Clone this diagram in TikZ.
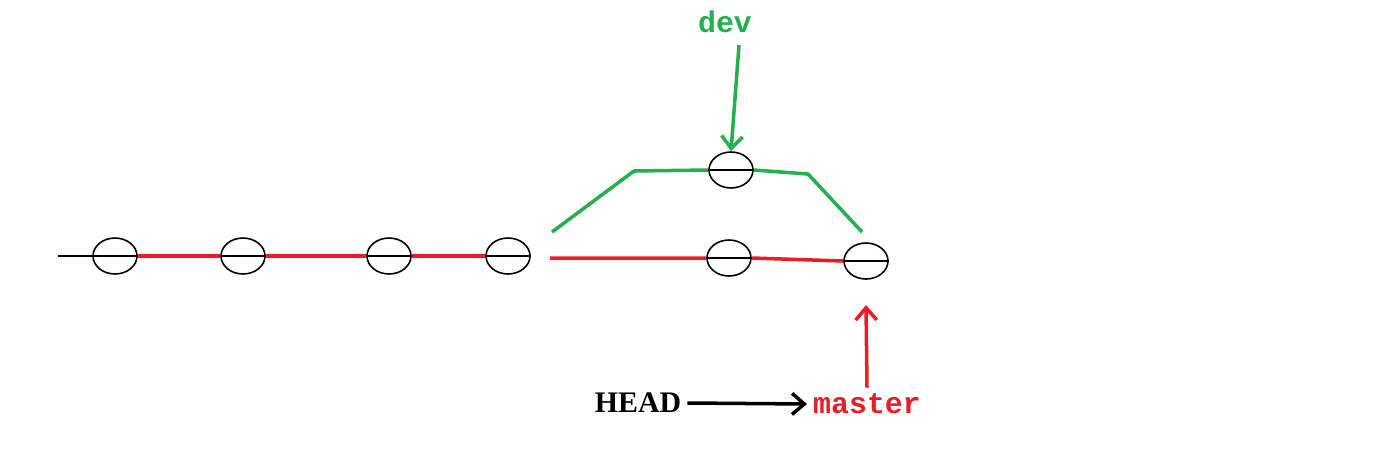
\documentclass[tikz,border=0pt]{standalone}
\usepackage{fontspec}
\setmainfont{Liberation Serif}
\setmonofont{Liberation Mono}
\usetikzlibrary{shapes.geometric, arrows.meta}
\definecolor{gitred}{RGB}{237,28,36}
\definecolor{gitgreen}{RGB}{34,177,76}
\tikzset{
  commit/.style={draw, ellipse, line width=0.9pt, minimum width=0.88cm, minimum height=0.72cm, inner sep=0pt},
  branch/.style={line width=2pt},
  pointer/.style={line width=2pt, -{Straight Barb[length=7pt, width=12pt, line width=2pt]}},
}
\begin{document}
\begin{tikzpicture}[x=0.02cm, y=-0.02cm]
    \useasboundingbox (0,0) rectangle (1392,451);
    % commits
    \node[commit] (c1) at (115,256) {};
    \node[commit] (c2) at (243,256) {};
    \node[commit] (c3) at (389,256) {};
    \node[commit] (c4) at (508,256) {};
    \node[commit] (c5) at (729,258) {};
    \node[commit] (c6) at (866,261) {};
    \node[commit] (d1) at (731,170) {};
    \coordinate (start) at (58,256);
    % master line
    \draw[line width=0.9pt] (start) -- (c1.west);
    \draw[branch, gitred] (c1.east) -- (c2.west) (c2.east) -- (c3.west) (c3.east) -- (c4.west);
    \draw[branch, gitred] (550,258) -- (c5.west) (c5.east) -- (c6.west);
    % dev branch
    \draw[branch, gitgreen] (552,232) -- (634,171) -- (d1.west);
    \draw[branch, gitgreen] (d1.east) -- (808,174) -- (862,232);
    % diameters
    \foreach \c in {c1,c2,c3,c4,c5,c6,d1}
        \draw[line width=0.9pt] (\c.west) -- (\c.east);
    % labels
    \node[text=gitgreen, font=\fontsize{17}{20}\selectfont\ttfamily\bfseries] (dev) at (725,22) {dev};
    \node[text=gitred, font=\fontsize{17}{20}\selectfont\ttfamily\bfseries] (master) at (867,404) {master};
    \node[font=\fontsize{17}{20}\selectfont\bfseries] (head) at (638,403) {HEAD};
    \coordinate (devtail) at (739,45);
    \draw[pointer, gitgreen] (devtail) -- (d1.north);
    \draw[pointer, gitred] (master.north) -- (866,305);
    \draw[pointer] (head.east) -- (master.west);
\end{tikzpicture}
\end{document}
